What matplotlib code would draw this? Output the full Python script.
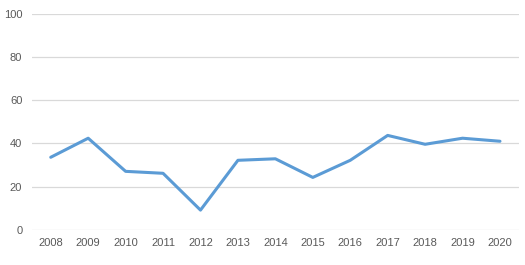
import matplotlib
matplotlib.use("Agg")
import matplotlib.pyplot as plt

# data
years = ["2008", "2009", "2010", "2011", "2012", "2013", "2014",
         "2015", "2016", "2017", "2018", "2019", "2020"]
values = [33.6, 42.4, 27.1, 26.2, 9.2, 32.2, 32.9,
          24.3, 32.2, 43.7, 39.6, 42.4, 41.0]
yticks = [0, 20, 40, 60, 80, 100]

plt.rcParams['font.family'] = ['Liberation Sans', 'DejaVu Sans']

fig = plt.figure(figsize=(5.25, 2.65), dpi=100)
ax = fig.add_axes([0.061, 0.132, 0.927, 0.817])

x = range(len(years))
ax.plot(x, values, color="#5B9BD5", linewidth=2.2, solid_joinstyle="round", solid_capstyle="round", zorder=3)

ax.set_xlim(-0.5, len(years) - 0.5)
ax.set_ylim(0, 100)
ax.set_yticks(yticks)
ax.set_xticks(list(x))
ax.set_xticklabels(years)
ax.grid(True, axis="y", color="#D9D9D9", linewidth=0.9)
ax.set_axisbelow(True)
for s in ax.spines.values():
    s.set_visible(False)
ax.tick_params(length=0, labelsize=8, labelcolor="#595959", pad=6)
ax.tick_params(axis="y", pad=7)

fig.savefig("out.png", dpi=100)
